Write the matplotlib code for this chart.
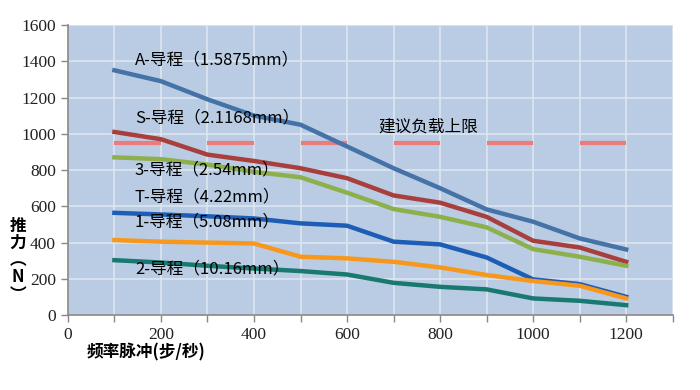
import numpy as np
import matplotlib.pyplot as plt

plt.rcParams['font.family'] = ['Noto Sans CJK SC', 'DejaVu Sans']

freq = [100, 200, 300, 400, 500, 600, 700, 800, 900, 1000, 1100, 1200]

force_A = [1350, 1290, 1190, 1100, 1050, 930, 810, 700, 583, 515, 423, 362]
force_S = [1010, 970, 885, 850, 810, 755, 660, 620, 542, 410, 373, 294]
force_3 = [870, 860, 830, 790, 760, 675, 585, 542, 484, 364, 322, 272]
force_1 = [564, 555, 545, 533, 506, 493, 405, 390, 318, 197, 171, 101]
force_orange = [414, 405, 400, 395, 322, 313, 294, 263, 221, 188, 162, 92]
force_2 = [303, 290, 272, 257, 243, 224, 178, 156, 142, 92, 79, 55]

limit_value = 950
limit_starts = [100, 300, 500, 700, 900, 1100]
limit_len = 100

x_ticks = list(range(0, 1301, 100))
x_ticklabels = [str(v) if v % 200 == 0 else '' for v in x_ticks]
y_ticks = list(range(0, 1601, 200))
y_ticklabels = [str(v) for v in y_ticks]

labels = ['A-导程（1.5875mm）', 'S-导程（2.1168mm）', '3-导程（2.54mm）',
          'T-导程（4.22mm）', '1-导程（5.08mm）', '2-导程（10.16mm）']
label_y = [1407, 1087, 800, 651, 513, 254]

fig = plt.figure(figsize=(7, 3.9), dpi=100)
ax = fig.add_axes([0.097, 0.192, 0.864, 0.744])
ax.set_facecolor('#b9cce3')

ax.plot(freq, force_A, color='#4572a7', lw=3.2, zorder=3)
ax.plot(freq, force_S, color='#a83f3c', lw=3.2, zorder=3)
ax.plot(freq, force_3, color='#8db04a', lw=3.2, zorder=3)
ax.plot(freq, force_1, color='#1d5db5', lw=3.2, zorder=3)
ax.plot(freq, force_orange, color='#f7981d', lw=3.2, zorder=3)
ax.plot(freq, force_2, color='#17796f', lw=3.2, zorder=3)

ax.hlines([limit_value] * len(limit_starts), limit_starts,
          [s + limit_len for s in limit_starts], color='#ee7b7b', lw=3, zorder=2)

for txt, yv in zip(labels, label_y):
    ax.text(144, yv, txt, fontsize=12, va='center', ha='left', zorder=4)
ax.text(667, 1037, '建议负载上限', fontsize=12, va='center', ha='left', zorder=4)

ax.set_xlim(0, 1300)
ax.set_ylim(0, 1600)
ax.set_xticks(x_ticks)
ax.set_xticklabels(x_ticklabels, fontfamily='Liberation Serif', fontsize=12.5, color='#222222')
ax.set_yticks(y_ticks)
ax.set_yticklabels(y_ticklabels, fontfamily='Liberation Serif', fontsize=12.5, color='#222222')
ax.grid(True, color='#dde6f0', lw=1.2, zorder=0)
ax.set_axisbelow(True)

ax.tick_params(axis='both', colors='#888888', length=5, width=1, labelcolor='#222222')
for side in ['top', 'right']:
    ax.spines[side].set_visible(False)
for side in ['left', 'bottom']:
    ax.spines[side].set_color('#888888')
    ax.spines[side].set_linewidth(1.2)

fig.text(0.025, 0.333, '推\n力\n︵\nN\n︶', fontsize=12, fontweight='bold',
         ha='center', va='center', linespacing=0.95)
fig.text(0.124, 0.095, '频率脉冲(步/秒)', fontsize=12, fontweight='bold',
         ha='left', va='center')

fig.savefig('out.png', dpi=100)
